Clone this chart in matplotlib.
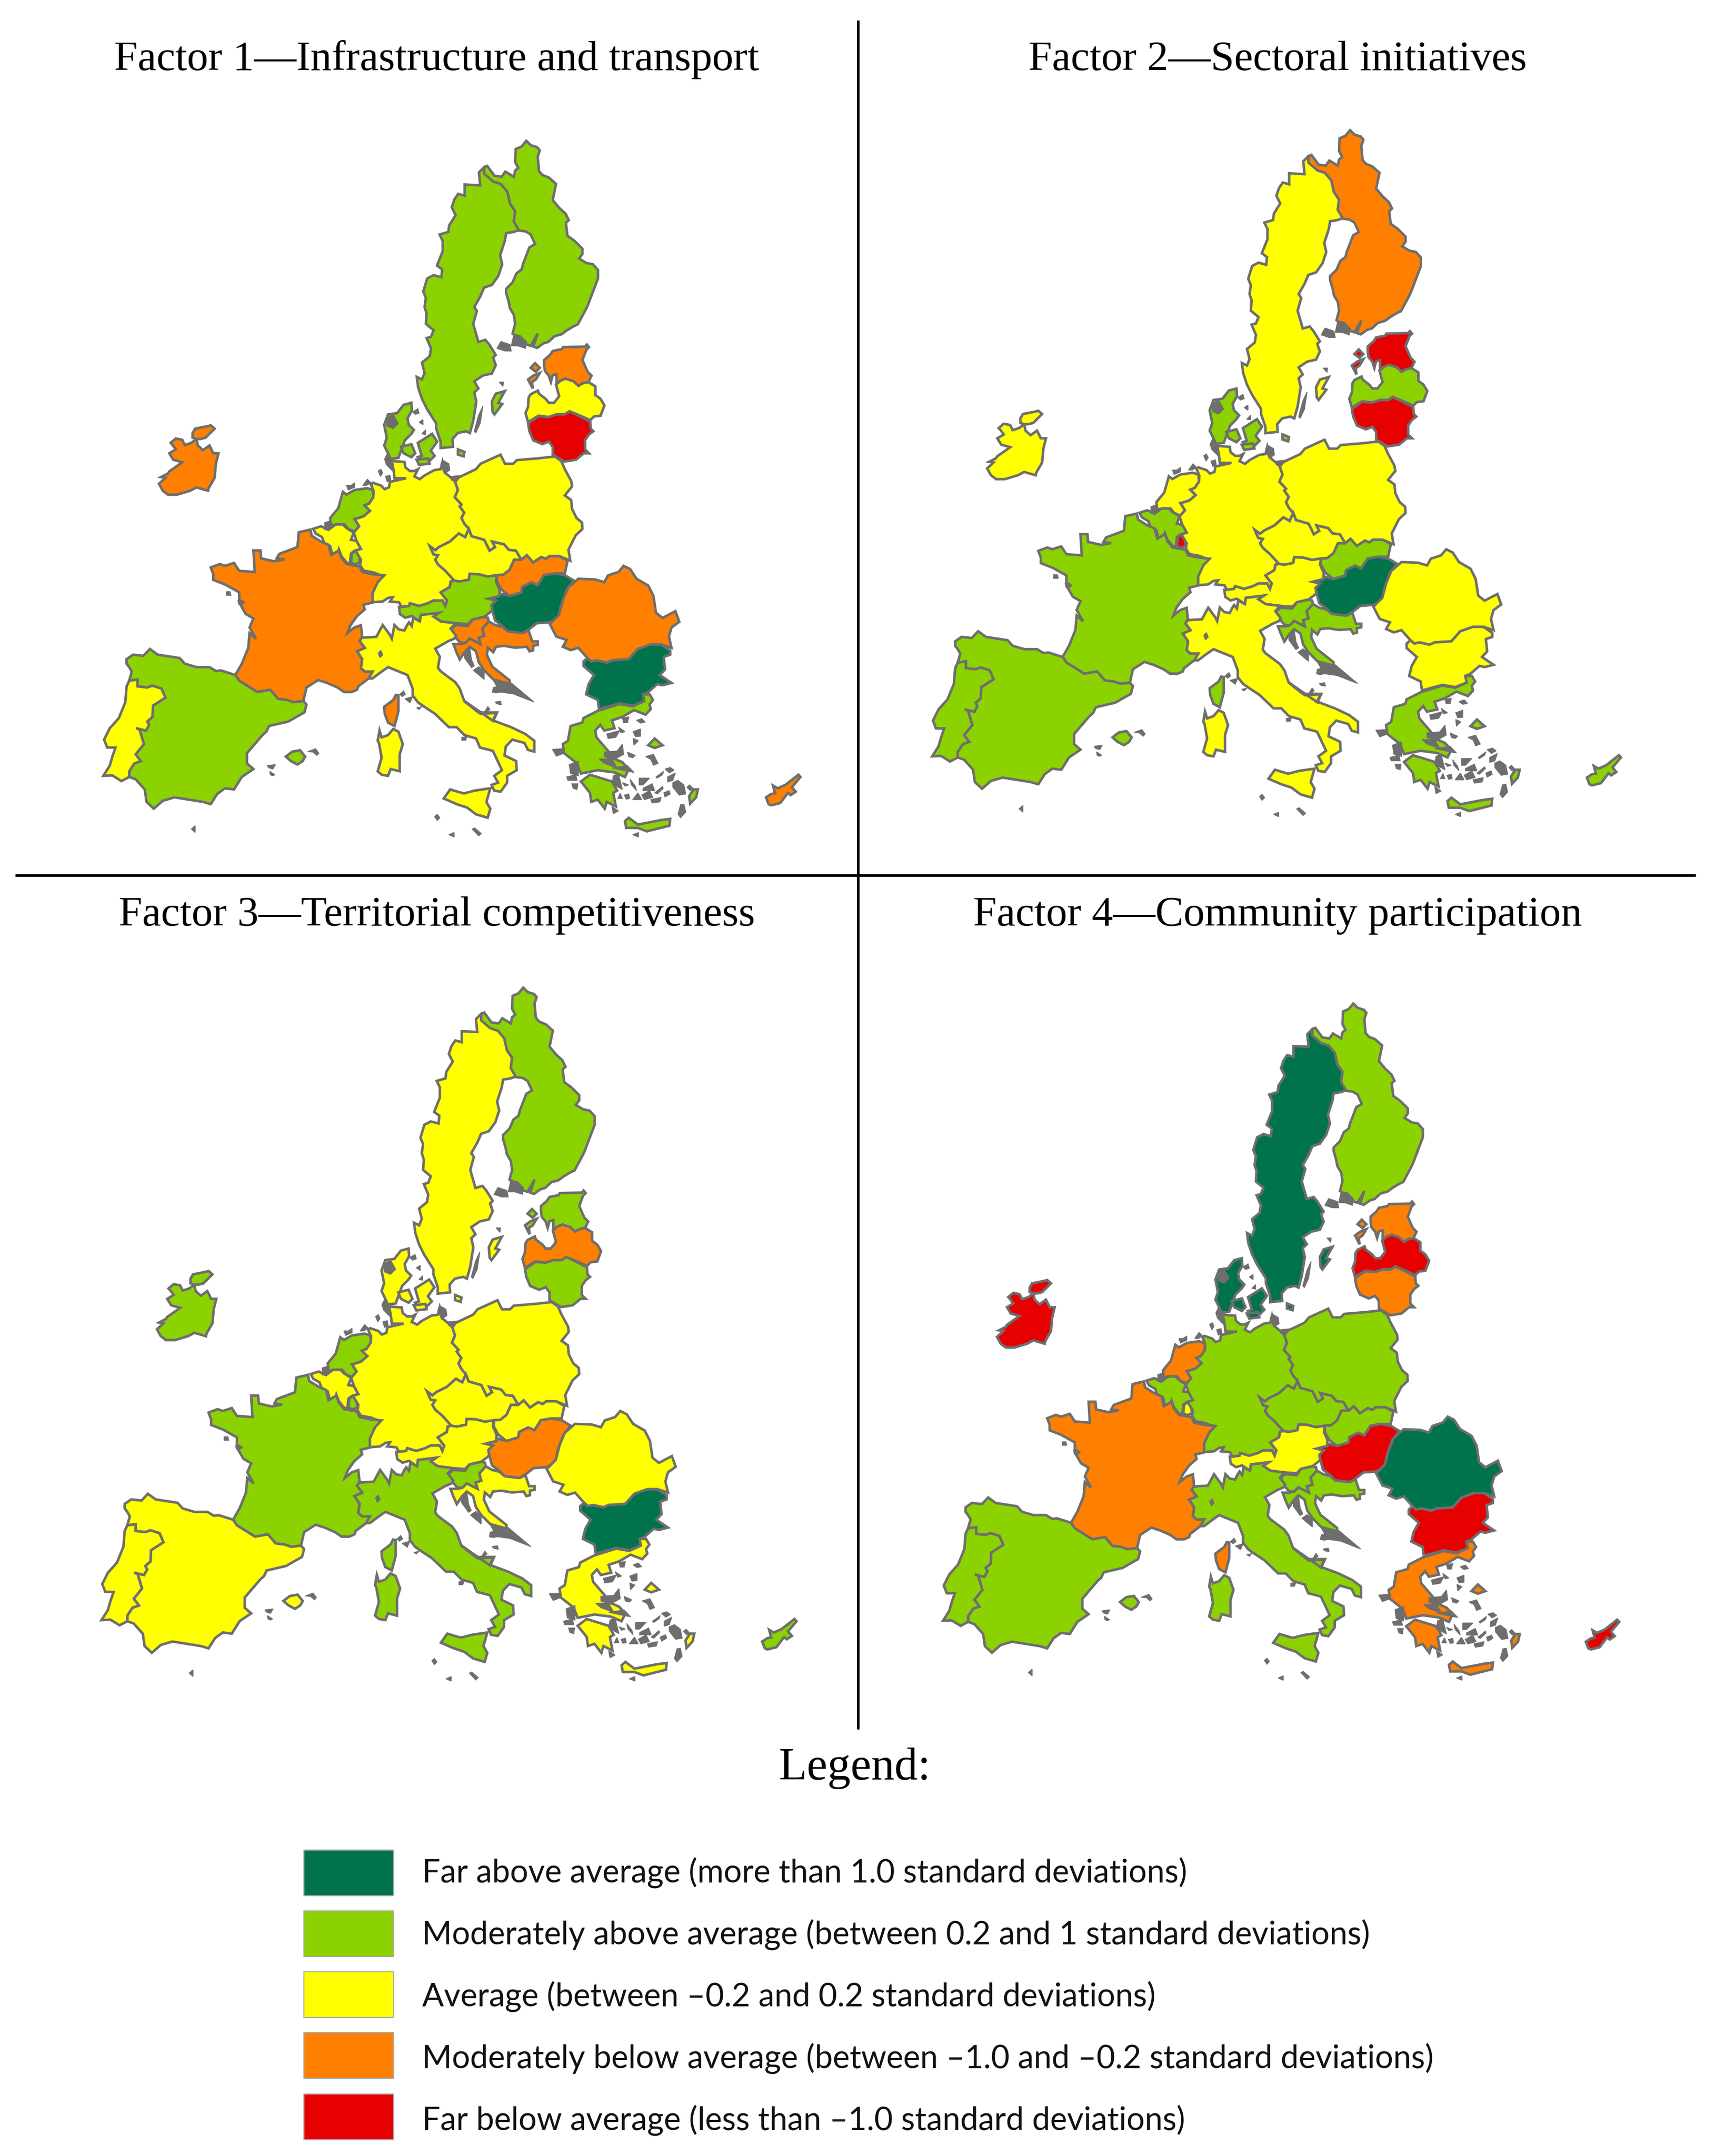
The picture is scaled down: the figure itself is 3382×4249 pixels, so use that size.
"""Factor maps of the EU member states, four panels plus a hand made legend."""
import matplotlib
matplotlib.use("Agg")
import matplotlib.pyplot as plt
from matplotlib.patches import Polygon, Rectangle

SHEETS = {
    'A': (150, 230, 1.96, 1.96),
    'B': (750, 230, 1.96, 1.96),
    'C': (150, 1000, 1.96, 2.24),
    'D': (900, 1000, 1.96, 2.24),
    'F': (640, 880, 2.8, 2.8),
}


def sheet(name, pts):
    ox, oy, kx, ky = SHEETS[name]
    return [(ox + x / kx, oy + y / ky) for x, y in pts]


COUNTRIES = ['SE', 'FI', 'EE', 'LV', 'LT', 'DK', 'IE', 'NL', 'BE', 'LU', 'DE', 'PL', 'CZ',
             'SK', 'AT', 'HU', 'SI', 'HR', 'RO', 'BG', 'EL', 'IT', 'FR', 'ES', 'PT', 'CY']

# 2 far above, 1 moderately above, 0 average, -1 moderately below, -2 far below
FACTOR_1 = [1, 1, -1, 0, -2, 1, -1, 1, 0, 1, 0, 0, 0, -1, 1, 2, -1, -1, -1, 2, 1, 0, -1, 1, 0, -1]
FACTOR_2 = [0, -1, -2, 1, -2, 1, 0, 0, 1, -2, 0, 0, 0, 1, 0, 2, 1, 1, 0, 0, 1, 0, 1, 1, 1, 1]
FACTOR_3 = [0, 1, 1, -1, 1, 0, 1, 1, 0, 1, 0, 0, 0, 0, 0, -1, 1, 0, 0, 2, 0, 1, 1, 0, 0, 1]
FACTOR_4 = [2, 1, -1, -2, -1, 2, -2, -1, 1, 0, 1, 1, 1, 1, 0, -2, 1, 1, 2, -2, -1, 1, -1, 1, 1, -2]
FACTORS = [FACTOR_1, FACTOR_2, FACTOR_3, FACTOR_4]

TITLES = ['Factor 1\u2014Infrastructure and transport', 'Factor 2\u2014Sectoral initiatives',
          'Factor 3\u2014Territorial competitiveness', 'Factor 4\u2014Community participation']

LEVELS = [2, 1, 0, -1, -2]
LEVEL_LABELS = ['Far above average (more than 1.0 standard deviations)',
                'Moderately above average (between 0.2 and 1 standard deviations)',
                'Average (between \u20130.2 and 0.2 standard deviations)',
                'Moderately below average (between \u20131.0 and \u20130.2 standard deviations)',
                'Far below average (less than \u20131.0 standard deviations)']
COLORS = {2: '#00734c', 1: '#8cd200', 0: '#ffff00', -1: '#ff7f00', -2: '#e60000'}
GREY = '#6e6e6e'

SE = sheet('B', [(400, 195), (380, 215), (385, 265), (325, 262), (325, 305), (300, 298), (285, 320), (275, 350),
                 (290, 380), (265, 420), (262, 445), (228, 455), (240, 480), (240, 520), (218, 575), (238, 590),
                 (235, 620), (205, 612), (180, 625), (165, 675), (175, 700), (170, 735), (178, 760), (175, 800),
                 (205, 825), (195, 850), (178, 855), (195, 895), (190, 925), (160, 950), (170, 990), (160, 1015),
                 (140, 1005), (145, 1045), (160, 1090), (180, 1130), (215, 1185), (215, 1205), (232, 1255),
                 (232, 1280), (280, 1275), (278, 1245), (298, 1222), (330, 1215), (345, 1222), (358, 1175),
                 (370, 1100), (362, 1065), (378, 1050), (362, 1022), (395, 1000), (430, 992), (445, 960),
                 (435, 930), (445, 920), (420, 880), (405, 862), (378, 870), (358, 800), (372, 750), (362, 735),
                 (385, 695), (400, 660), (430, 650), (455, 615), (470, 570), (462, 535), (480, 480), (485, 450),
                 (515, 445), (540, 435), (515, 405), (520, 365), (500, 335), (490, 290), (465, 260), (435, 250)])
SE_GOTLAND = sheet('B', [(430, 1100), (445, 1070), (480, 1060), (455, 1105), (470, 1110), (440, 1150), (433, 1140)])
FI = sheet('B', [(400, 195), (412, 190), (440, 228), (468, 232), (482, 212), (515, 232), (520, 208), (532, 198),
                 (520, 175), (522, 125), (545, 115), (563, 93), (580, 110), (605, 118), (615, 130), (607, 155),
                 (612, 210), (625, 225), (650, 235), (678, 260), (665, 322), (690, 352), (715, 375), (727, 400),
                 (716, 410), (722, 460), (750, 480), (780, 510), (780, 530), (767, 548), (795, 565), (820, 570),
                 (840, 592), (840, 625), (800, 730), (790, 750), (762, 802), (745, 810), (720, 825), (700, 840),
                 (672, 848), (648, 870), (630, 875), (605, 893), (590, 888), (607, 838), (580, 885), (565, 880),
                 (525, 870), (520, 845), (510, 838), (520, 800), (515, 765), (500, 740), (495, 715), (485, 680),
                 (485, 665), (500, 650), (510, 640), (525, 605), (545, 590), (550, 570), (575, 505), (597, 492),
                 (580, 455), (560, 443), (535, 440), (515, 405), (520, 365), (500, 335), (490, 290), (465, 260),
                 (435, 250), (400, 220)])
EE = sheet('B', [(632, 940), (655, 920), (665, 905), (700, 898), (705, 890), (790, 888), (797, 880), (805, 890),
                 (795, 900), (780, 940), (800, 985), (815, 1000), (803, 1025), (780, 1030), (765, 1040), (745, 1022),
                 (715, 1012), (695, 1020), (680, 1030), (680, 995), (665, 998), (658, 1025), (650, 1000), (635, 982),
                 (632, 960)])
EE_SAAREMAA = sheet('B', [(570, 1015), (590, 1000), (615, 990), (600, 1015), (585, 1025), (588, 1050)])
EE_HIIUMAA = sheet('B', [(580, 970), (597, 952), (615, 970), (600, 985)])
LV = sheet('B', [(580, 1072), (608, 1058), (612, 1070), (638, 1090), (650, 1105), (670, 1105), (690, 1080), (678, 1035),
                 (695, 1020), (715, 1012), (745, 1022), (765, 1040), (780, 1030), (803, 1025), (830, 1042), (830, 1075),
                 (850, 1090), (865, 1115), (850, 1155), (825, 1158), (810, 1172), (760, 1150), (730, 1138), (712, 1150),
                 (680, 1150), (650, 1160), (610, 1155), (570, 1180), (560, 1145), (570, 1120), (572, 1085)])
LT = sheet('B', [(570, 1185), (610, 1157), (650, 1160), (680, 1150), (712, 1150), (730, 1138), (760, 1152), (810, 1178),
                 (812, 1205), (822, 1215), (805, 1228), (790, 1250), (790, 1285), (805, 1300), (785, 1300), (755, 1325),
                 (710, 1332), (665, 1305), (665, 1275), (650, 1255), (625, 1265), (590, 1250), (575, 1215)])
DK = sheet('A', [(1265, 1113), (1295, 1105), (1297, 1135), (1280, 1165), (1285, 1190), (1305, 1210), (1295, 1225),
                 (1270, 1250), (1255, 1290), (1245, 1318), (1215, 1322), (1200, 1290), (1190, 1270), (1200, 1240),
                 (1190, 1190), (1205, 1150), (1240, 1145)])
DK_FUNEN = sheet('A', [(1255, 1275), (1295, 1265), (1310, 1300), (1295, 1315), (1265, 1300)])
DK_ZEALAND = sheet('A', [(1320, 1260), (1375, 1225), (1395, 1255), (1370, 1290), (1385, 1310), (1360, 1335),
                         (1340, 1340), (1320, 1315), (1335, 1310)])
DK_LOLLAND = sheet('A', [(1315, 1325), (1360, 1320), (1365, 1340), (1325, 1345)])
DK_BORNHOLM = sheet('A', [(1475, 1285), (1500, 1295), (1497, 1312), (1475, 1305)])
IE = sheet('A', [(365, 1260), (385, 1243), (410, 1248), (420, 1268), (445, 1260), (465, 1245), (470, 1270), (490, 1288),
                 (515, 1270), (530, 1300), (550, 1300), (540, 1340), (535, 1395), (512, 1435), (510, 1445), (465, 1432),
                 (440, 1445), (390, 1460), (355, 1460), (335, 1445), (320, 1418), (345, 1395), (328, 1392), (355, 1378),
                 (360, 1370), (410, 1335), (375, 1325), (360, 1300), (385, 1285), (370, 1265)])
IE_NORTH = sheet('A', [(450, 1222), (460, 1205), (510, 1195), (520, 1192), (535, 1205), (500, 1240), (480, 1245),
                       (465, 1245), (450, 1240)])
NL = sheet('F', [(100, 250), (120, 265), (165, 240), (235, 230), (265, 240), (270, 280), (245, 315), (220, 325),
                 (250, 355), (215, 385), (185, 395), (165, 400), (190, 440), (165, 470), (130, 455), (110, 430),
                 (70, 430), (35, 435), (30, 395), (75, 340)])
BE = sheet('F', [(-64, 454), (-20, 440), (20, 460), (60, 430), (100, 430), (120, 450), (160, 475), (145, 515), (175, 520),
                 (200, 565), (165, 575), (145, 590), (140, 640), (125, 645), (92, 605), (78, 568), (70, 595), (40, 590),
                 (30, 550), (0, 540), (-15, 500), (-50, 480)])
LU = sheet('F', [(150, 590), (170, 575), (190, 600), (195, 640), (165, 650), (145, 640)])
DE = sheet('F', [(370, 80), (380, 130), (385, 175), (450, 175), (360, 195), (355, 225), (330, 235), (310, 215), (265, 200),
                 (255, 210), (270, 245), (268, 280), (245, 315), (220, 325), (250, 355), (215, 385), (185, 395), (165, 400),
                 (190, 440), (160, 475), (175, 520), (200, 565), (170, 575), (200, 625), (195, 655), (215, 685), (270, 695),
                 (320, 715), (290, 750), (260, 810), (255, 860), (320, 855), (350, 835), (375, 832), (360, 855), (410, 860),
                 (425, 885), (465, 880), (470, 865), (520, 880), (570, 865), (600, 850), (650, 850), (665, 880), (675, 850),
                 (640, 805), (690, 775), (695, 745), (715, 740), (665, 685), (625, 650), (610, 625), (625, 600), (600, 595),
                 (580, 550), (610, 572), (630, 555), (690, 525), (740, 480), (775, 500), (795, 455), (770, 425), (755, 395),
                 (770, 365), (745, 330), (755, 320), (718, 280), (735, 240), (720, 195), (700, 175), (665, 145), (650, 85),
                 (640, 125), (605, 130), (550, 160), (525, 180), (495, 165), (515, 125), (495, 135), (470, 135), (445, 115),
                 (440, 85)])
PL = sheet('F', [(720, 195), (740, 170), (835, 125), (860, 95), (970, 45), (995, 95), (1040, 95), (1060, 75), (1180, 65),
                 (1270, 55), (1305, 80), (1325, 125), (1360, 190), (1365, 220), (1325, 270), (1360, 295), (1365, 345),
                 (1390, 395), (1420, 420), (1422, 455), (1385, 490), (1345, 570), (1355, 630), (1295, 605), (1240, 605),
                 (1220, 620), (1195, 610), (1150, 640), (1115, 600), (1085, 625), (1055, 575), (1015, 570), (990, 540),
                 (925, 525), (940, 555), (910, 575), (880, 515), (810, 495), (795, 455), (770, 425), (755, 395), (770, 365),
                 (745, 330), (755, 320), (718, 280), (735, 240)])
CZ = sheet('F', [(580, 550), (610, 572), (630, 555), (690, 525), (740, 480), (775, 500), (795, 455), (810, 495), (880, 515),
                 (910, 575), (940, 555), (925, 525), (990, 540), (1015, 570), (1055, 575), (1085, 625), (1045, 625),
                 (1020, 680), (985, 708), (950, 710), (900, 718), (850, 705), (800, 703), (795, 735), (745, 745), (715, 740),
                 (665, 685), (625, 650), (610, 625), (625, 600), (600, 595)])
SK = sheet('F', [(1085, 625), (1115, 600), (1150, 640), (1195, 610), (1220, 620), (1240, 605), (1295, 605), (1340, 630),
                 (1325, 700), (1270, 700), (1210, 710), (1175, 765), (1140, 750), (1090, 775), (1085, 805), (1020, 825),
                 (975, 790), (950, 745), (950, 710), (985, 708), (1020, 680), (1045, 625)])
AT = sheet('F', [(715, 740), (745, 745), (795, 735), (800, 703), (850, 705), (900, 718), (950, 710), (945, 745), (965, 790),
                 (965, 825), (905, 840), (945, 850), (920, 875), (925, 905), (880, 940), (815, 955), (790, 980), (720, 975),
                 (640, 965), (600, 938), (630, 918), (530, 930), (525, 965), (480, 935), (445, 945), (415, 925), (410, 885),
                 (425, 885), (465, 880), (470, 865), (520, 880), (570, 865), (600, 850), (650, 850), (665, 880), (675, 850),
                 (640, 805), (690, 775), (695, 745)])
HU = sheet('F', [(965, 810), (1020, 825), (1085, 805), (1090, 775), (1140, 750), (1175, 765), (1210, 710), (1270, 700),
                 (1325, 710), (1375, 740), (1335, 790), (1300, 890), (1295, 945), (1240, 970), (1170, 975), (1125, 1010),
                 (1090, 1030), (1010, 1020), (980, 990), (940, 960), (925, 905), (920, 875), (945, 850), (905, 840), (965, 825)])
SI = sheet('F', [(700, 1005), (725, 985), (790, 990), (815, 955), (880, 940), (900, 945), (905, 965), (870, 1005), (880, 1045),
                 (850, 1055), (860, 1090), (800, 1060), (775, 1085), (745, 1080), (715, 1045)])
HR = sheet('F', [(905, 965), (940, 985), (980, 995), (1010, 1020), (1090, 1030), (1125, 1015), (1145, 1075), (1175, 1075),
                 (1175, 1095), (1150, 1100), (1150, 1125), (1130, 1130), (1115, 1105), (1050, 1110), (990, 1100), (945, 1105),
                 (930, 1135), (900, 1110), (895, 1150), (925, 1215), (1020, 1290), (1020, 1310), (930, 1285), (880, 1235),
                 (850, 1190), (835, 1130), (800, 1105), (775, 1130), (745, 1175), (725, 1130), (710, 1090), (745, 1090),
                 (775, 1085), (800, 1060), (860, 1090), (850, 1055), (880, 1045), (870, 1005)])
RO = sheet('D', [(360, 515), (395, 475), (410, 410), (430, 355), (470, 315), (535, 318), (570, 330), (585, 300), (625, 285),
                 (645, 258), (670, 272), (695, 315), (740, 345), (760, 390), (770, 465), (795, 488), (845, 458), (860, 505),
                 (830, 530), (820, 570), (830, 620), (790, 605), (750, 605), (700, 625), (665, 670), (600, 675), (580, 685),
                 (540, 675), (520, 680), (505, 665), (470, 620), (440, 630), (410, 615), (425, 585), (385, 570)])
BG = sheet('D', [(490, 680), (505, 665), (520, 680), (540, 675), (580, 685), (600, 675), (665, 670), (700, 625), (750, 605),
                 (790, 605), (825, 632), (825, 650), (800, 660), (805, 715), (785, 740), (830, 775), (795, 785), (775, 780),
                 (740, 815), (720, 825), (725, 855), (680, 875), (630, 865), (550, 890), (545, 850), (500, 825), (510, 780),
                 (530, 740), (490, 700)])
EL = sheet('D', [(545, 898), (630, 868), (680, 878), (725, 855), (720, 825), (745, 825), (758, 850), (745, 870), (750, 890),
                 (730, 915), (685, 895), (640, 925), (600, 940), (610, 975), (570, 985), (555, 960), (535, 985), (540, 1015),
                 (585, 1075), (600, 1105), (640, 1125), (665, 1155), (650, 1190), (610, 1170), (545, 1160), (480, 1175),
                 (465, 1130), (415, 1085), (410, 1045), (430, 1030), (440, 965), (485, 950), (490, 930)])
EL_PELOPONNESE = sheet('D', [(480, 1210), (515, 1180), (600, 1210), (620, 1250), (605, 1260), (615, 1320), (580, 1300),
                             (572, 1330), (545, 1290), (520, 1300), (515, 1260)])
EL_CRETE = sheet('D', [(650, 1385), (665, 1370), (700, 1400), (790, 1380), (825, 1375), (822, 1405), (735, 1430), (700, 1415),
                       (655, 1415)])
EL_LESBOS = sheet('D', [(740, 1050), (765, 1020), (795, 1050), (765, 1062)])
EL_RHODES = sheet('D', [(898, 1275), (915, 1245), (932, 1245), (925, 1280), (902, 1308)])
IT = (sheet('F', [(205, 1055), (285, 1050), (320, 985), (360, 1040), (370, 1060), (385, 985), (410, 1010), (440, 1015),
                  (455, 985), (465, 970), (480, 990), (488, 945), (525, 965), (530, 930), (630, 918), (600, 938), (640, 965),
                  (720, 975), (695, 1005), (725, 1045), (715, 1060), (680, 1075), (610, 1115), (635, 1160), (625, 1220),
                  (640, 1240), (720, 1300), (745, 1335), (770, 1405), (860, 1475), (950, 1470), (930, 1515)])
      + sheet('D', [(30, 855), (85, 905), (155, 905), (140, 940), (210, 970), (265, 1000), (300, 1030), (300, 1078), (275, 1070),
                    (262, 1040), (215, 1025), (190, 1055), (185, 1095), (230, 1120), (232, 1160), (195, 1185), (195, 1215),
                    (170, 1255), (145, 1250), (135, 1225), (160, 1215), (145, 1185), (175, 1160), (140, 1075), (125, 1070),
                    (90, 1060), (75, 1020), (30, 1005), (0, 970)])
      + sheet('C', [(1440, 970), (1385, 910), (1345, 880), (1320, 860), (1300, 830), (1300, 800), (1280, 740), (1205, 705),
                    (1180, 725), (1145, 755), (1130, 755), (1145, 725), (1115, 725), (1100, 710), (1105, 670), (1085, 635),
                    (1115, 620), (1095, 590)]))
IT_SICILY = (sheet('C', [(1420, 1285), (1445, 1245), (1495, 1262)])
             + sheet('D', [(30, 1262), (70, 1250), (130, 1240), (115, 1300), (130, 1330), (120, 1370), (75, 1355), (40, 1325),
                           (0, 1310)]))
IT_SARDINIA = sheet('C', [(1165, 1030), (1172, 985), (1180, 1015), (1205, 1005), (1225, 978), (1245, 990), (1262, 1045),
                          (1250, 1090), (1250, 1165), (1215, 1155), (1205, 1185), (1180, 1180), (1165, 1165), (1180, 1105),
                          (1170, 1040)])
FR = sheet('C', [(860, 110), (905, 98), (910, 125), (945, 150), (975, 165), (985, 210), (1015, 190), (1025, 222), (1045, 250),
                 (1095, 260), (1105, 285), (1145, 295), (1190, 300), (1165, 330), (1145, 380), (1145, 420), (1110, 430),
                 (1115, 450), (1085, 480), (1060, 520), (1048, 555), (1075, 530), (1100, 520), (1105, 570), (1095, 590),
                 (1115, 620), (1085, 635), (1105, 670), (1100, 710), (1115, 725), (1145, 725), (1130, 755), (1090, 790),
                 (1085, 805), (1065, 815), (1035, 815), (1010, 795), (970, 775), (935, 762), (890, 795), (878, 855), (840, 860),
                 (815, 850), (780, 845), (750, 805), (700, 815), (630, 765), (615, 740), (640, 690), (665, 620), (670, 555),
                 (695, 580), (670, 530), (685, 490), (655, 470), (630, 420), (630, 375), (575, 340), (530, 320), (530, 295),
                 (520, 265), (555, 250), (575, 258), (610, 245), (630, 280), (690, 285), (685, 190), (712, 190), (715, 225),
                 (765, 238), (805, 230), (775, 225), (785, 205), (855, 175)])
FR_CORSICA = sheet('C', [(1190, 880), (1225, 850), (1235, 828), (1245, 830), (1245, 900), (1230, 965), (1205, 950), (1192, 910)])
ES = sheet('C', [(195, 670), (220, 650), (260, 655), (285, 625), (315, 650), (400, 665), (420, 690), (465, 705), (515, 705),
                 (540, 722), (560, 720), (615, 740), (630, 765), (700, 815), (750, 805), (780, 845), (815, 850), (840, 860),
                 (878, 855), (890, 870), (882, 905), (820, 945), (745, 965), (735, 990), (720, 1005), (660, 1085), (660, 1130),
                 (685, 1155), (640, 1190), (610, 1245), (575, 1240), (545, 1265), (520, 1310), (490, 1300), (380, 1280),
                 (335, 1295), (300, 1330), (272, 1300), (265, 1245), (230, 1200), (205, 1190), (205, 1165), (225, 1130),
                 (250, 1120), (230, 1090), (262, 1045), (245, 980), (232, 975), (270, 985), (282, 960), (275, 945), (295, 925),
                 (297, 875), (345, 840), (330, 800), (295, 787), (275, 795), (237, 790), (237, 760), (205, 765), (215, 725),
                 (205, 705), (195, 690)])
ES_MALLORCA = sheet('C', [(810, 1100), (835, 1078), (865, 1072), (885, 1100), (875, 1120), (855, 1135), (830, 1120)])
PT = sheet('C', [(205, 765), (237, 760), (237, 790), (275, 795), (295, 787), (330, 800), (345, 840), (297, 875), (295, 925),
                 (275, 945), (282, 960), (270, 985), (232, 975), (245, 980), (262, 1045), (230, 1090), (250, 1120), (225, 1130),
                 (205, 1165), (205, 1190), (175, 1208), (140, 1183), (105, 1185), (130, 1140), (140, 1100), (152, 1060),
                 (120, 1060), (108, 1025), (130, 975), (165, 930), (190, 860), (195, 790)])
CY = sheet('D', [(1195, 1280), (1215, 1265), (1230, 1262), (1222, 1228), (1240, 1240), (1270, 1225), (1320, 1180), (1328, 1190),
                 (1295, 1235), (1310, 1255), (1290, 1270), (1280, 1260), (1250, 1305), (1215, 1315), (1205, 1310)])

SHAPES = {'SE': [SE, SE_GOTLAND], 'FI': [FI], 'EE': [EE, EE_SAAREMAA, EE_HIIUMAA], 'LV': [LV], 'LT': [LT],
          'DK': [DK, DK_FUNEN, DK_ZEALAND, DK_LOLLAND, DK_BORNHOLM], 'IE': [IE, IE_NORTH], 'NL': [NL], 'BE': [BE],
          'LU': [LU], 'DE': [DE], 'PL': [PL], 'CZ': [CZ], 'SK': [SK], 'AT': [AT], 'HU': [HU], 'SI': [SI], 'HR': [HR],
          'RO': [RO], 'BG': [BG], 'EL': [EL, EL_PELOPONNESE, EL_CRETE, EL_LESBOS, EL_RHODES],
          'IT': [IT, IT_SICILY, IT_SARDINIA], 'FR': [FR, FR_CORSICA], 'ES': [ES, ES_MALLORCA], 'PT': [PT], 'CY': [CY]}

# tiny islands and coastline clutter, these come out solid grey at this scale
GREY_BITS = [
    sheet('B', [(450, 895), (465, 868), (500, 880), (505, 905), (480, 905)]),
    sheet('B', [(505, 885), (515, 840), (540, 845), (565, 870), (560, 895), (530, 885)]),
    sheet('B', [(362, 1215), (378, 1155), (395, 1118), (385, 1185), (368, 1222)]),
    sheet('B', [(458, 1025), (475, 1025), (473, 1042)]),
    sheet('A', [(1300, 1140), (1320, 1128), (1325, 1145), (1310, 1150)]),
    sheet('A', [(1325, 1180), (1340, 1170), (1340, 1190)]),
    sheet('A', [(1335, 1225), (1350, 1210), (1350, 1228)]),
    sheet('A', [(1200, 1165), (1225, 1150), (1245, 1185), (1225, 1205), (1200, 1195)]),
    sheet('F', [(295, 135), (310, 125), (320, 145), (308, 165)]),
    sheet('F', [(335, 165), (360, 158), (365, 185), (345, 195)]),
    sheet('F', [(120, 215), (145, 215), (165, 200), (165, 225), (130, 240)]),
    sheet('F', [(235, 180), (255, 200), (230, 215), (210, 215)]),
    sheet('F', [(0, 420), (30, 410), (35, 445), (0, 460)]),
    sheet('F', [(330, 70), (350, 30), (365, 80), (375, 135), (340, 100)]),
    sheet('F', [(640, 100), (650, 75), (685, 95), (690, 130), (660, 150)]),
    sheet('F', [(695, 165), (750, 160), (725, 195), (700, 185)]),
    sheet('F', [(775, 1130), (800, 1105), (810, 1175), (825, 1210), (810, 1220), (770, 1165)]),
    sheet('F', [(820, 1235), (850, 1215), (880, 1240), (880, 1285)]),
    sheet('F', [(930, 1290), (1030, 1305), (1155, 1410), (1040, 1365), (970, 1355), (945, 1360), (925, 1355), (930, 1330),
                (950, 1325)]),
    sheet('F', [(940, 1410), (970, 1405), (975, 1425), (950, 1420)]),
    sheet('F', [(885, 1460), (900, 1435), (912, 1450), (895, 1465)]),
    sheet('F', [(295, 1140), (310, 1125), (320, 1150), (305, 1165)]),
    sheet('C', [(580, 372), (595, 372), (598, 388), (580, 388)]),
    sheet('C', [(625, 410), (640, 408), (652, 420), (640, 430), (628, 428)]),
    sheet('C', [(895, 1078), (925, 1065), (938, 1085), (930, 1095), (915, 1080)]),
    sheet('C', [(738, 1140), (770, 1135), (760, 1155), (745, 1150)]),
    sheet('C', [(748, 1165), (768, 1180), (760, 1185), (750, 1180)]),
    sheet('C', [(445, 1420), (460, 1405), (460, 1435)]),
    sheet('C', [(1250, 825), (1265, 810), (1272, 825), (1260, 835)]),
    sheet('C', [(1270, 845), (1300, 835), (1290, 862)]),
    sheet('C', [(1315, 885), (1335, 880), (1325, 892)]),
    sheet('C', [(1385, 1365), (1395, 1355), (1405, 1370), (1395, 1382)]),
    sheet('C', [(1440, 1445), (1460, 1435), (1460, 1455)]),
    sheet('D', [(60, 1420), (70, 1415), (95, 1440), (85, 1450)]),
    sheet('D', [(20, 1015), (40, 1012), (35, 1028), (20, 1028)]),
    sheet('D', [(695, 940), (715, 932), (728, 948), (710, 952)]),
    sheet('D', [(682, 990), (710, 978), (710, 1010), (690, 1012)]),
    sheet('D', [(682, 1020), (702, 1030), (685, 1050)]),
    sheet('D', [(730, 1100), (760, 1090), (778, 1130), (760, 1138), (750, 1112)]),
    sheet('D', [(770, 1190), (800, 1165), (795, 1180), (775, 1195)]),
    sheet('D', [(805, 1155), (825, 1148), (840, 1160), (822, 1172)]),
    sheet('D', [(815, 1190), (845, 1172), (835, 1205), (815, 1212)]),
    sheet('D', [(835, 1215), (855, 1205), (878, 1225), (885, 1265), (860, 1270), (835, 1235)]),
    sheet('D', [(890, 1235), (900, 1225), (912, 1240), (902, 1250)]),
    sheet('D', [(865, 1312), (878, 1310), (885, 1345), (865, 1370), (855, 1355)]),
    sheet('D', [(800, 1260), (820, 1250), (825, 1265), (805, 1278)]),
    sheet('D', [(765, 1260), (795, 1232), (798, 1240), (775, 1265)]),
    sheet('D', [(750, 1290), (790, 1280), (785, 1300), (755, 1305)]),
    sheet('D', [(680, 1290), (700, 1260), (715, 1290)]),
    sheet('D', [(715, 1270), (745, 1250), (758, 1280), (725, 1290)]),
    sheet('D', [(720, 1240), (755, 1220), (765, 1250), (720, 1250)]),
    sheet('D', [(670, 1200), (690, 1230), (695, 1250), (675, 1225)]),
    sheet('D', [(705, 1195), (745, 1195), (720, 1225), (705, 1225)]),
    sheet('D', [(640, 1215), (665, 1225), (650, 1230)]),
    sheet('D', [(622, 1285), (632, 1262), (640, 1285)]),
    sheet('D', [(648, 1270), (665, 1265), (668, 1285), (655, 1288)]),
    sheet('D', [(600, 1320), (625, 1340), (605, 1352)]),
    sheet('D', [(680, 1445), (702, 1435), (702, 1455)]),
    sheet('D', [(370, 1068), (410, 1065), (415, 1085), (385, 1098)]),
    sheet('D', [(435, 1135), (470, 1120), (470, 1185), (440, 1175)]),
    sheet('D', [(425, 1190), (460, 1180), (465, 1205), (430, 1205)]),
    sheet('D', [(445, 1220), (468, 1220), (465, 1245), (450, 1240)]),
    sheet('D', [(640, 930), (665, 925), (660, 950), (645, 950)]),
    sheet('D', [(580, 1000), (630, 985), (615, 1015), (585, 1020)]),
    sheet('D', [(625, 970), (650, 990), (635, 995)]),
    sheet('D', [(570, 1080), (620, 1075), (640, 1045), (645, 1090), (605, 1115), (570, 1100)]),
    sheet('D', [(550, 1110), (600, 1110), (620, 1150), (570, 1130)]),
    sheet('D', [(600, 1150), (660, 1140), (685, 1170), (660, 1165)]),
    sheet('D', [(605, 1185), (625, 1175), (640, 1245), (600, 1220)]),
    sheet('D', [(660, 1080), (690, 1095), (680, 1105), (665, 1100)]),
]

# (x scale, x shift, y scale, y shift) of each panel against the traced one
PANEL_FIT = [(1.0, 0, 1.0, 0), (0.988, 1636, 0.986, -17), (0.997, -3, 0.996, 1670), (0.97, 1661, 0.972, 1708)]
TITLE_POS = [(861, 138), (2518, 138), (861, 1824), (2518, 1824)]
W, H = 3382, 4249

plt.rcParams['font.family'] = ['Liberation Serif', 'DejaVu Serif']

fig = plt.figure(figsize=(W / 100, H / 100), dpi=100)
ax = fig.add_axes([0, 0, 1, 1])
ax.set_xlim(0, W)
ax.set_ylim(H, 0)
ax.axis('off')

for factor, fit, title, pos in zip(FACTORS, PANEL_FIT, TITLES, TITLE_POS):
    sx, dx, sy, dy = fit
    for code, level in zip(COUNTRIES, factor):
        for part in SHAPES[code]:
            pts = [(sx * x + dx, sy * y + dy) for x, y in part]
            ax.add_patch(Polygon(pts, closed=True, fc=COLORS[level], ec=GREY, lw=3.6, joinstyle='miter'))
    for bit in GREY_BITS:
        pts = [(sx * x + dx, sy * y + dy) for x, y in bit]
        ax.add_patch(Polygon(pts, closed=True, fc=GREY, ec=GREY, lw=1.2))
    ax.text(pos[0], pos[1], title, ha='center', va='baseline', fontsize=60, color='black')

ax.plot([1690.5, 1690.5], [40, 3408], color='black', lw=3.6, solid_capstyle='butt')
ax.plot([30, 3342], [1724.5, 1724.5], color='black', lw=3.6, solid_capstyle='butt')

ax.text(1684, 3507, 'Legend:', ha='center', va='baseline', fontsize=66, color='black')

legend_tops = [3646, 3766, 3886, 4006, 4127]
legend_baselines = [3711, 3833, 3955, 4077, 4199]
for top, base, level, label in zip(legend_tops, legend_baselines, LEVELS, LEVEL_LABELS):
    ax.add_patch(Rectangle((599, top), 177, 90, fc=COLORS[level], ec='#a8a8a8', lw=1.5))
    ax.text(832, base, label, ha='left', va='baseline', fontsize=45.5, color='#111111', family=['Lato', 'DejaVu Sans'])

fig.savefig('out.png', dpi=100)
